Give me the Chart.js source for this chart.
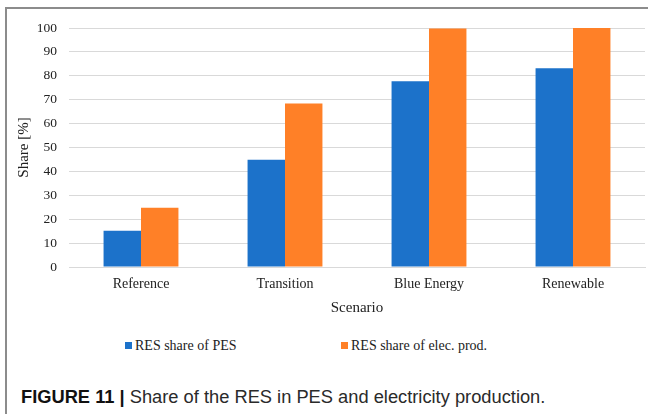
<!DOCTYPE html>
<html>
<head>
<meta charset="utf-8">
<script src="https://cdn.jsdelivr.net/npm/chart.js@4/dist/chart.umd.min.js"></script>
<style>
  html, body { margin: 0; padding: 0; background: #fff; }
  #wrap { position: relative; width: 648px; height: 414px; overflow: hidden; }
  #frameTop { position: absolute; left: 6px; top: 7px; width: 642px; height: 0; border-top: 2px solid #8c8c8c; }
  #frameLeft { position: absolute; left: 5px; top: 7px; width: 0; height: 407px; border-left: 2px solid #8c8c8c; }
  #chartBox { position: absolute; left: 0; top: 0; width: 648px; height: 315px; }
  #legend { position: absolute; left: 0; top: 337px; width: 648px; height: 20px;
            font-family: "Liberation Serif", "Times New Roman", serif; font-size: 14px; color: #222; }
  #legend .item { position: absolute; top: 0; white-space: nowrap; line-height: 18px; }
  #legend .box { display: inline-block; width: 7px; height: 7px; margin-right: 3px; vertical-align: 1px; }
  #caption { position: absolute; left: 21px; top: 386px; font-family: "Liberation Sans", Arial, sans-serif;
             font-size: 18.3px; color: #2a2a2a; white-space: nowrap; }
  #caption b { font-weight: bold; color: #111; }
</style>
</head>
<body>
<div id="wrap">
  <div id="frameTop"></div>
  <div id="frameLeft"></div>
  <div id="chartBox"><canvas id="resChart"></canvas></div>
  <div id="legend"></div>
  <div id="caption"><b>FIGURE 11 |</b> Share of the RES in PES and electricity production.</div>
</div>
<script>
// scenarios on the x axis
const scenarios = ['Reference', 'Transition', 'Blue Energy', 'Renewable'];

// RES shares in %
const resSharePES = [15.2, 44.9, 77.7, 83.2];
const resShareElec = [24.8, 68.4, 99.8, 100];

const yTicks = [0, 10, 20, 30, 40, 50, 60, 70, 80, 90, 100];

const serif = '"Liberation Serif", "Times New Roman", serif';
const textColor = '#222';
const gridColor = '#d9d9d9';

// legend x positions, like the original figure
const legendLeft = [125, 341];

const htmlLegend = {
    id: 'htmlLegend',
    afterUpdate(chart) {
        const el = document.getElementById('legend');
        el.innerHTML = '';
        chart.data.datasets.forEach((ds, i) => {
            const item = document.createElement('span');
            item.className = 'item';
            item.style.left = legendLeft[i] + 'px';
            const box = document.createElement('span');
            box.className = 'box';
            box.style.background = ds.backgroundColor;
            item.appendChild(box);
            item.appendChild(document.createTextNode(ds.label));
            el.appendChild(item);
        });
    }
};

const ctx = document.getElementById('resChart');

new Chart(ctx, {
    type: 'bar',
    data: {
        labels: scenarios,
        datasets: [
            {
                label: 'RES share of PES',
                data: resSharePES,
                backgroundColor: '#1c72ca',
                categoryPercentage: 0.52,
                barPercentage: 1.0
            },
            {
                label: 'RES share of elec. prod.',
                data: resShareElec,
                backgroundColor: '#ff8027',
                categoryPercentage: 0.52,
                barPercentage: 1.0
            }
        ]
    },
    options: {
        responsive: true,
        maintainAspectRatio: false,
        animation: false,
        layout: { padding: { top: 28, right: 3, left: 0, bottom: 0 } },
        plugins: {
            legend: { display: false },
            tooltip: { enabled: false }
        },
        scales: {
            x: {
                afterFit: (scale) => { scale.height = 48; },
                grid: { display: false, drawTicks: false },
                border: { display: true, color: gridColor, width: 1 },
                ticks: { color: textColor, font: { family: serif, size: 14 }, padding: 9 },
                title: {
                    display: true, text: 'Scenario', color: textColor,
                    font: { family: serif, size: 15 }, padding: { top: 0, bottom: -2 }
                }
            },
            y: {
                min: 0,
                max: 100,
                afterBuildTicks: (scale) => { scale.ticks = yTicks.map(v => ({ value: v })); },
                afterFit: (scale) => { scale.width = 69; },
                grid: { color: gridColor, lineWidth: 1, drawTicks: false },
                border: { display: false },
                ticks: { color: textColor, font: { family: serif, size: 13.5 }, padding: 12 },
                title: {
                    display: true, text: 'Share [%]', color: textColor,
                    font: { family: serif, size: 15 }, padding: { top: 15, bottom: 0 }
                }
            }
        }
    },
    plugins: [htmlLegend]
});
</script>
</body>
</html>
